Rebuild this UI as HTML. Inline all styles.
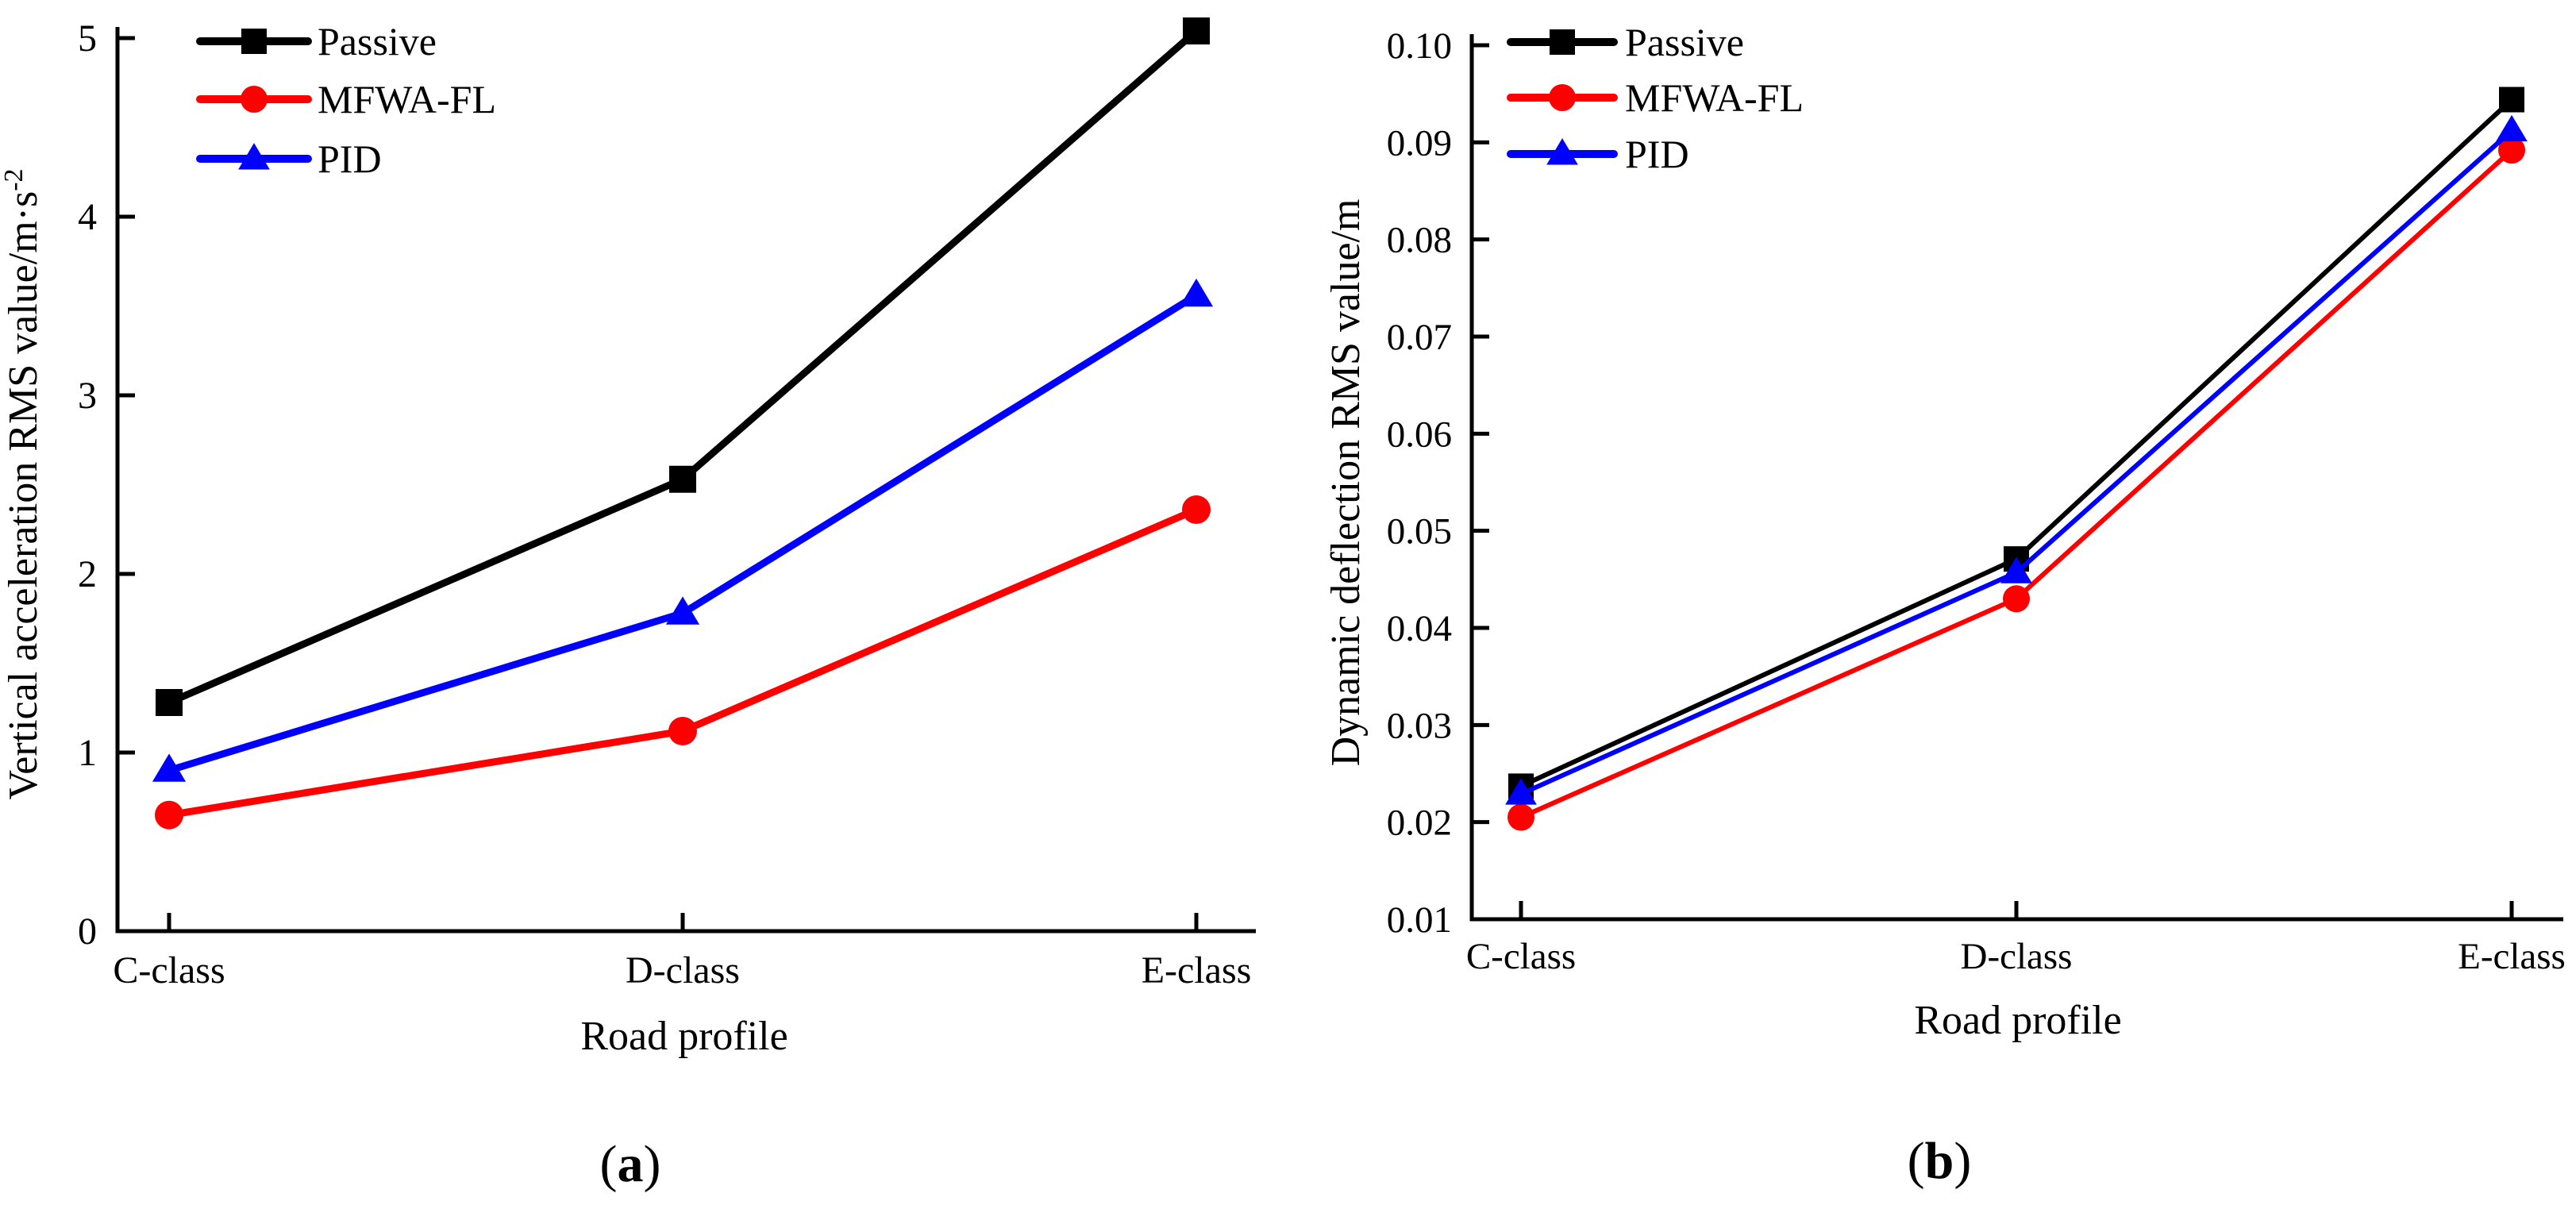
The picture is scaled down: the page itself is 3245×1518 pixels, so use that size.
<!DOCTYPE html>
<html><head><meta charset="utf-8"><style>
html,body{margin:0;padding:0;background:#fff;}
svg{display:block;}
svg text{font-family:"Liberation Serif","DejaVu Serif","Noto Serif CJK SC",serif;}
</style></head><body>
<svg id="fig" width="3245" height="1518" viewBox="0 0 3245 1518">
<g id="chartA"></g>
<g id="chartB"></g>
</svg>
<script>
const categories = ["C-class","D-class","E-class"];
const seriesNames = ["Passive","MFWA-FL","PID"];
const seriesColors = ["#000000","#ff0000","#0000ff"];
const markerTypes = ["square","circle","triangle"];
const aPassive = [1.28, 2.53, 5.04];
const aMfwa = [0.65, 1.12, 2.36];
const aPid = [0.90, 1.78, 3.56];
const aTicks = [0,1,2,3,4,5];
const aTickLabels = ["0","1","2","3","4","5"];
const bPassive = [0.0237, 0.0471, 0.0944];
const bMfwa = [0.0205, 0.0430, 0.0892];
const bPid = [0.0229, 0.0457, 0.0912];
const bTicks = [0.01,0.02,0.03,0.04,0.05,0.06,0.07,0.08,0.09,0.10];
const bTickLabels = ["0.01","0.02","0.03","0.04","0.05","0.06","0.07","0.08","0.09","0.10"];

const NS="http://www.w3.org/2000/svg";
function mk(parent, tag, attrs, text){
  const e=document.createElementNS(NS,tag);
  for(const k in attrs) e.setAttribute(k,attrs[k]);
  if(text!==undefined) e.textContent=text;
  parent.appendChild(e); return e;
}
function marker(g, type, x, y, color, s){
  let e;
  if(type==="square") e=mk(g,"rect",{x:x-s/2,y:y-s/2,width:s,height:s,fill:color});
  else if(type==="circle") e=mk(g,"circle",{cx:x,cy:y,r:s/2+1,fill:color});
  else e=mk(g,"polygon",{points:`${x},${y-s*0.62} ${x-s*0.62},${y+s*0.42} ${x+s*0.62},${y+s*0.42}`,fill:color});
  return e;
}
function drawChart(g, cfg){
  const {x0,x1,yBot,yTop,vMin,vMax,catX,ticks,tickLabels,series,lw,ms,legend,yTitle,yTitleX,yTitleY,xTitleY,xTitleX,catLabelY,tickLabelX,panel,panelX,panelY,fs} = cfg;
  const ys = v => yBot - (v - vMin)/(vMax - vMin)*(yBot - yTop);
  const xs = i => catX[0] + i*(catX[1]-catX[0]);
  const ax=mk(g,"path",{d:`M${x0} ${yTop-14} L${x0} ${yBot} L${x1} ${yBot}`,stroke:"#000","stroke-width":5,fill:"none"});
  
  
  ticks.forEach((t,i)=>{
    const y=ys(t);
    const tk=mk(g,"line",{x1:x0,y1:y,x2:x0+22,y2:y,stroke:"#000","stroke-width":5});
    
    
    const tl=mk(g,"text",{x:tickLabelX,y:y+16,"text-anchor":"end","font-size":fs},tickLabels[i]);
    
    
  });
  categories.forEach((c,i)=>{
    const x=xs(i);
    const tk=mk(g,"line",{x1:x,y1:yBot,x2:x,y2:yBot-23,stroke:"#000","stroke-width":5});
    
    
    const tl=mk(g,"text",{x:x,y:catLabelY,"text-anchor":"middle","font-size":fs},c);
    
    
  });
  series.forEach((vals,si)=>{
    const pts=vals.map((v,i)=>`${xs(i)},${ys(v)}`).join(" ");
    const pl=mk(g,"polyline",{points:pts,fill:"none",stroke:seriesColors[si],"stroke-width":lw,"stroke-linejoin":"round"});
    
    
    vals.forEach((v,i)=>{
      const m=marker(g,markerTypes[si],xs(i),ys(v),seriesColors[si],ms);
      
      
    });
  });
  seriesNames.forEach((n,si)=>{
    const y=legend.rows[si];
    const ln=mk(g,"line",{x1:legend.x0,y1:y,x2:legend.x1,y2:y,stroke:seriesColors[si],"stroke-width":10,"stroke-linecap":"round"});
    
    
    const m=marker(g,markerTypes[si],(legend.x0+legend.x1)/2,y,seriesColors[si],32);
    
    
    const t=mk(g,"text",{x:legend.tx,y:y+17,"font-size":50},n);
    
    
  });
  const yt=mk(g,"text",{x:0,y:0,"text-anchor":"middle","font-size":52,transform:`translate(${yTitleX},${yTitleY}) rotate(-90)`});
  yt.innerHTML=yTitle;
  
  
  const xt=mk(g,"text",{x:xTitleX,y:xTitleY,"text-anchor":"middle","font-size":52},"Road profile");
  
  
  const pl=mk(g,"text",{x:panelX,y:panelY,"text-anchor":"middle","font-size":66});
  pl.innerHTML='(<tspan font-weight="bold">'+panel+'</tspan>)';
  
  
}
drawChart(document.getElementById("chartA"),{
  x0:148,x1:1582,yBot:1173,yTop:48,vMin:0,vMax:5,catX:[213,860],
  ticks:aTicks,tickLabels:aTickLabels,series:[aPassive,aMfwa,aPid],lw:9,ms:34,fs:48,
  legend:{x0:252,x1:388,tx:400,rows:[52,125,200]},
  yTitle:'Vertical acceleration RMS value/m·s<tspan dy="-18" font-size="34">-2</tspan>',
  yTitleX:46,yTitleY:610,xTitleX:862,xTitleY:1322,catLabelY:1238,tickLabelX:122,
  panel:"a",panelX:794,panelY:1488
});
drawChart(document.getElementById("chartB"),{
  x0:1854,x1:3229,yBot:1158,yTop:57,vMin:0.01,vMax:0.10,catX:[1916,2540],
  ticks:bTicks,tickLabels:bTickLabels,series:[bPassive,bMfwa,bPid],lw:6,ms:32,fs:47,
  legend:{x0:1903,x1:2033,tx:2047,rows:[53,123,194]},
  yTitle:'Dynamic deflection RMS value/m',
  yTitleX:1712,yTitleY:608,xTitleX:2542,xTitleY:1302,catLabelY:1220,tickLabelX:1829,
  panel:"b",panelX:2443,panelY:1484
});
</script>
</body></html>
